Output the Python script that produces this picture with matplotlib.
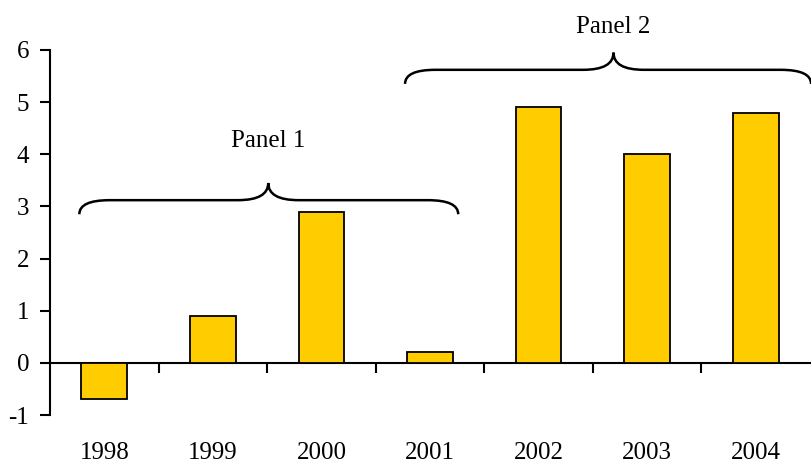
import matplotlib.pyplot as plt
from matplotlib.path import Path
from matplotlib.patches import PathPatch

# Data
years = ['1998', '1999', '2000', '2001', '2002', '2003', '2004']
values = [-0.7, 0.9, 2.9, 0.2, 4.9, 4.0, 4.8]
y_ticks = [-1, 0, 1, 2, 3, 4, 5, 6]

plt.rcParams['font.family'] = ['Liberation Serif', 'DejaVu Serif']

fig = plt.figure(figsize=(8.11, 4.65), dpi=100)
ax = fig.add_axes([50 / 811, 50 / 465, 760 / 811, 365 / 465])

x = list(range(len(years)))
ax.bar(x, values, width=0.42, color='#FFCC00', edgecolor='black', linewidth=1.3, zorder=3)

ax.set_xlim(-0.5, len(years) - 0.5)
ax.set_ylim(-1, 6)

for side in ['top', 'right']:
    ax.spines[side].set_visible(False)
ax.spines['bottom'].set_position(('data', 0))
ax.spines['left'].set_linewidth(1.5)
ax.spines['bottom'].set_linewidth(1.5)

ax.set_yticks(y_ticks)
ax.set_yticklabels([str(v) for v in y_ticks])
ax.tick_params(axis='y', direction='out', length=7, width=1.5, labelsize=18, pad=8)

# ticks between categories, labels at category centres below the plot
ax.set_xticks([i + 0.5 for i in x[:-1]])
ax.set_xticklabels([])
ax.tick_params(axis='x', which='major', direction='out', length=7, width=1.5)
ax.set_xticks(x, minor=True)
ax.set_xticklabels(years, minor=True)
ax.tick_params(axis='x', which='minor', length=0, labelsize=18, pad=57)


def brace(ax, x0, x1, xm, y_end, y_line, y_tip, r=0.28):
    verts = [
        (x0, y_end),
        (x0, y_line), (x0 + r, y_line),
        (xm - r, y_line),
        (xm, y_line), (xm, y_tip),
        (xm, y_line), (xm + r, y_line),
        (x1 - r, y_line),
        (x1, y_line), (x1, y_end),
    ]
    codes = [Path.MOVETO,
             Path.CURVE3, Path.CURVE3,
             Path.LINETO,
             Path.CURVE3, Path.CURVE3,
             Path.CURVE3, Path.CURVE3,
             Path.LINETO,
             Path.CURVE3, Path.CURVE3]
    ax.add_patch(PathPatch(Path(verts, codes), facecolor='none', edgecolor='black',
                           linewidth=1.8, clip_on=False, zorder=4))


brace(ax, -0.23, 3.26, 1.51, 2.85, 3.12, 3.45)
brace(ax, 2.77, 6.51, 4.69, 5.35, 5.62, 5.95)

ax.text(1.51, 4.25, 'Panel 1', ha='center', va='center', fontsize=18)
ax.text(4.69, 6.45, 'Panel 2', ha='center', va='center', fontsize=18, clip_on=False)

fig.savefig('out.png', dpi=100)
